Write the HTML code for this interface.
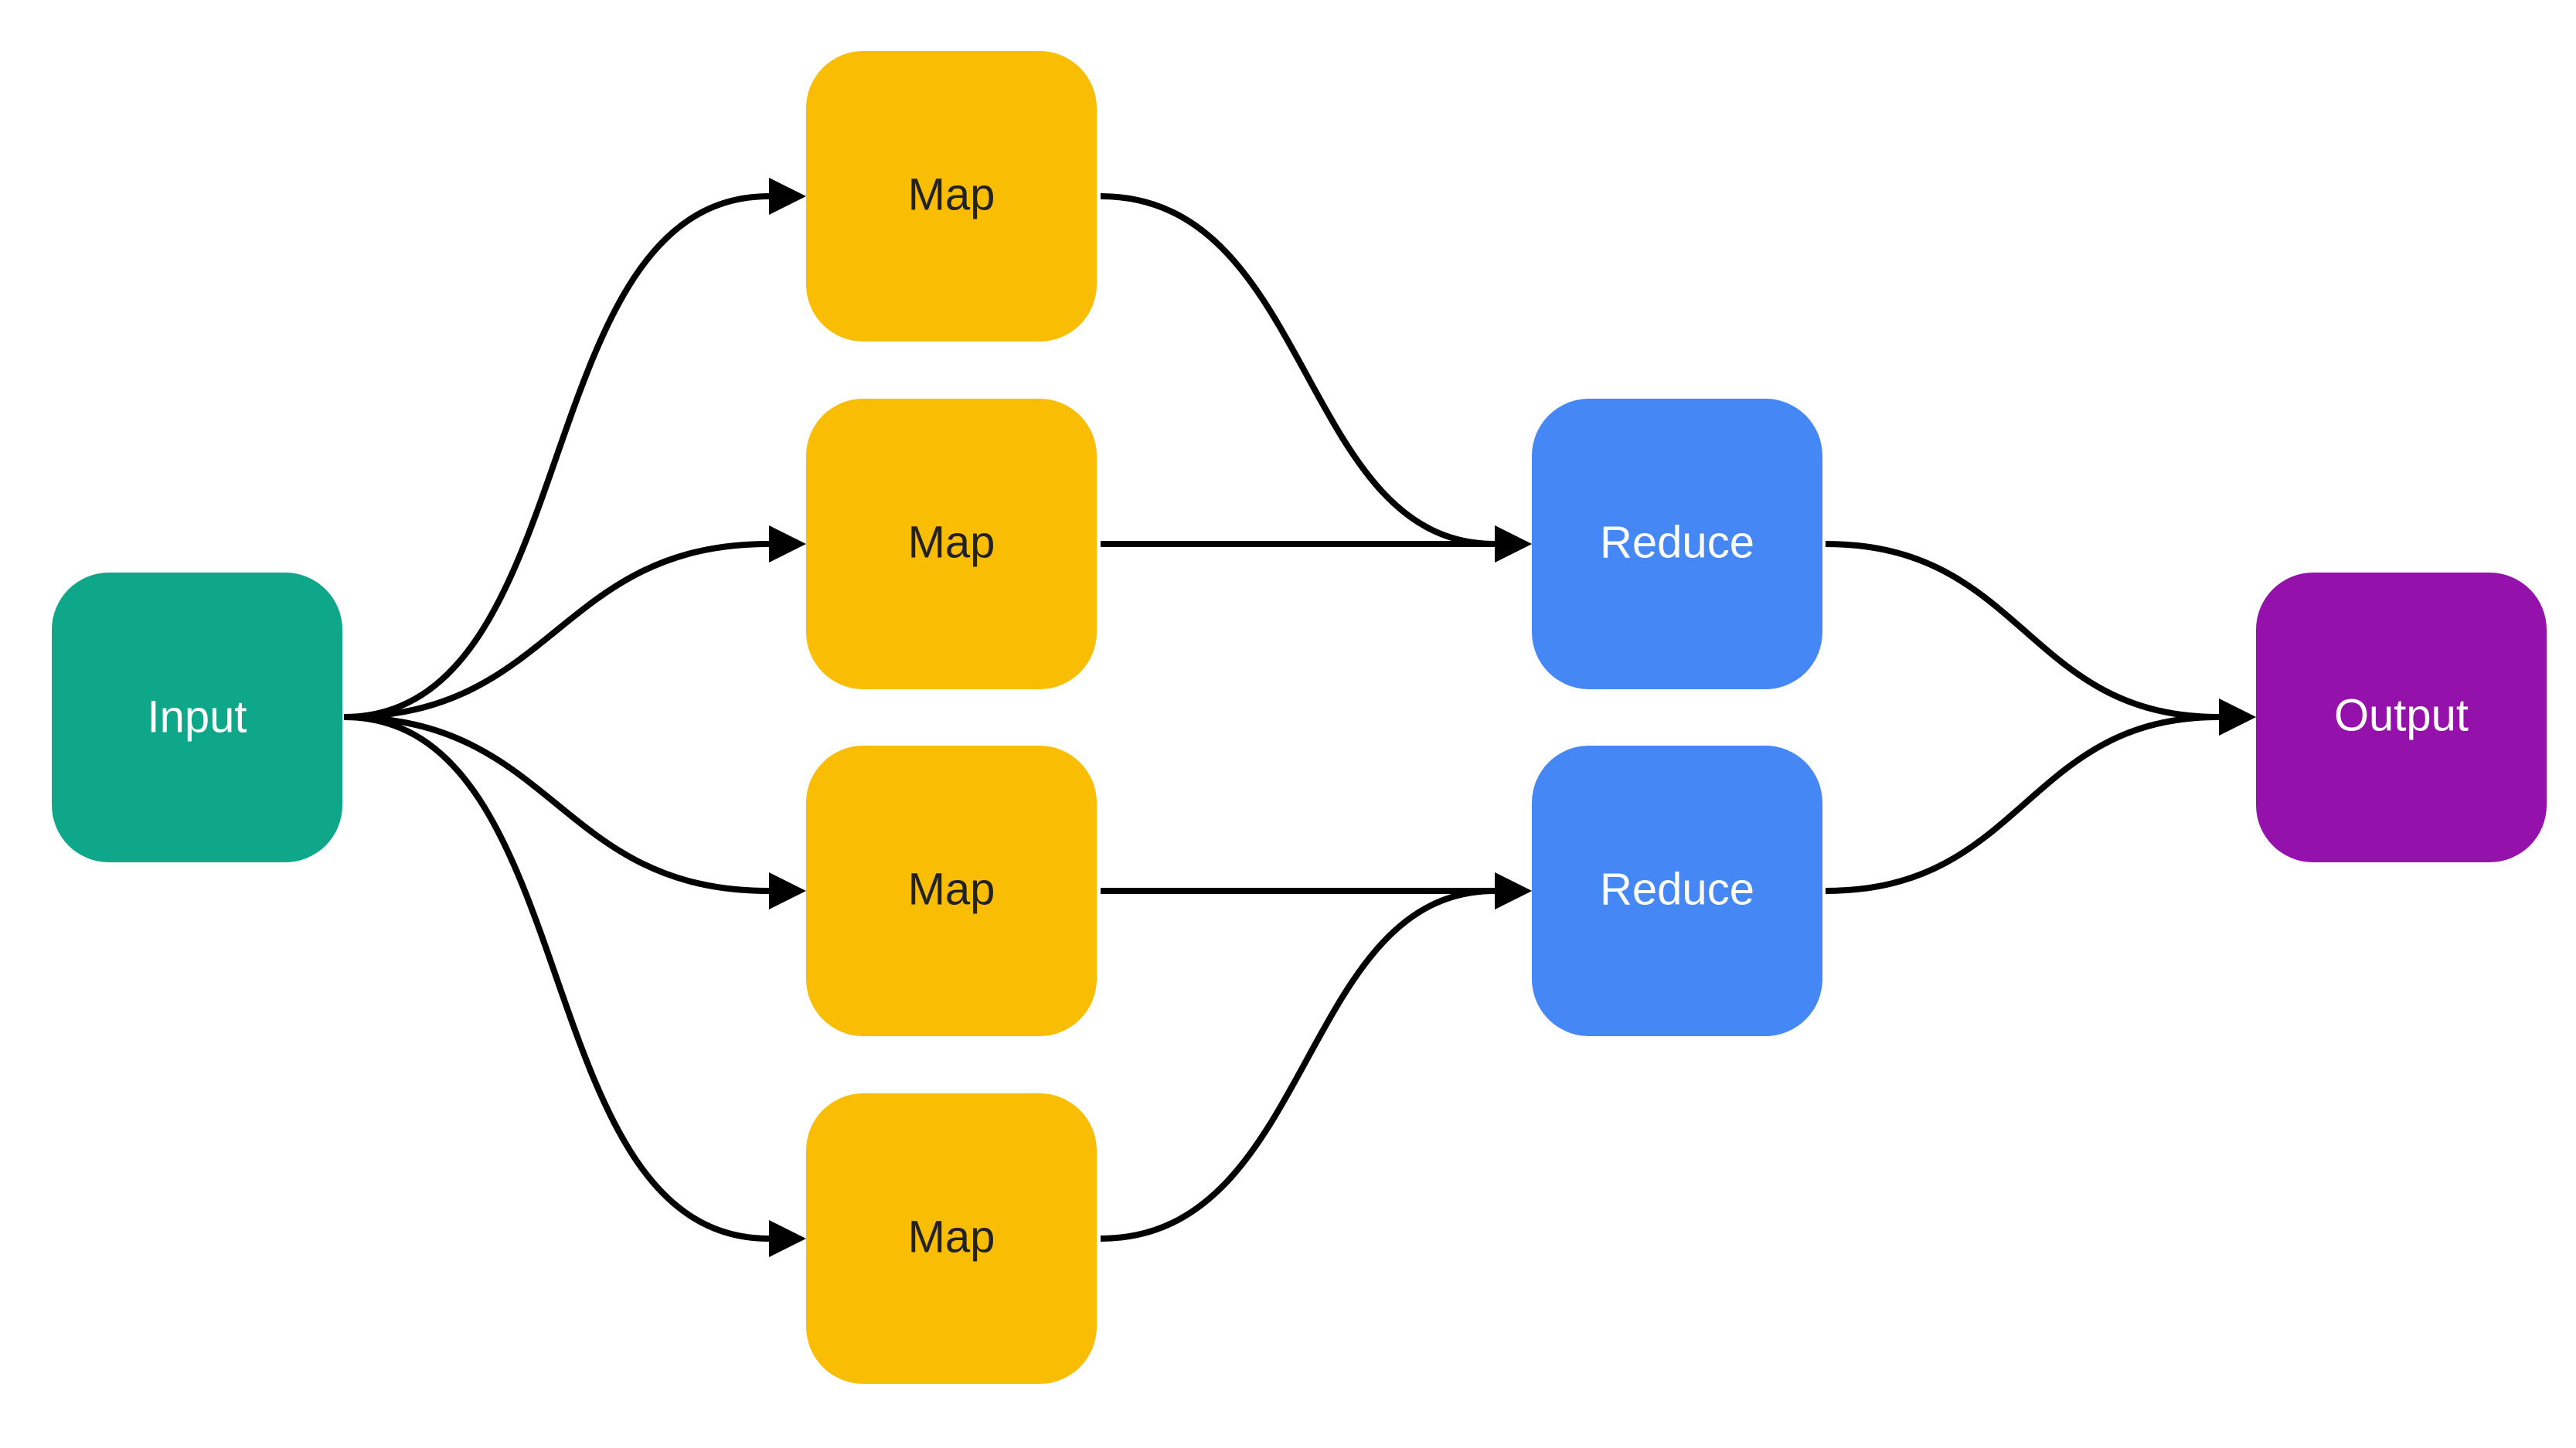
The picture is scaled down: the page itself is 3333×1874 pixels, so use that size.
<!DOCTYPE html>
<html><head><meta charset="utf-8"><style>
html,body{margin:0;padding:0;background:#fff;width:3333px;height:1874px;overflow:hidden}
svg{display:block}
text{font-family:"Liberation Sans",sans-serif;font-size:58px;text-anchor:middle;dominant-baseline:central}
</style></head><body>
<svg width="3333" height="1874" viewBox="0 0 3333 1874" xmlns="http://www.w3.org/2000/svg">
<defs>
<marker id="a" markerWidth="48" markerHeight="48" refX="0" refY="24" orient="auto" markerUnits="userSpaceOnUse">
<path d="M0,0 L48,24 L0,48 Z" fill="#000"/>
</marker>
</defs>
<g fill="none" stroke="#000" stroke-width="8">
<path d="M445,928 C760,928 680,254 995,254" marker-end="url(#a)"/>
<path d="M445,928 C720,928 720,704 995,704" marker-end="url(#a)"/>
<path d="M445,928 C720,928 720,1153 995,1153" marker-end="url(#a)"/>
<path d="M445,928 C760,928 680,1603 995,1603" marker-end="url(#a)"/>
<path d="M1424,254 C1700,254 1680,704 1934,704" marker-end="url(#a)"/>
<path d="M1424,704 L1934,704" marker-end="url(#a)"/>
<path d="M1424,1153 L1934,1153" marker-end="url(#a)"/>
<path d="M1424,1603 C1700,1603 1680,1153 1934,1153" marker-end="url(#a)"/>
<path d="M2362,704 C2620,704 2620,928 2871,928" marker-end="url(#a)"/>
<path d="M2362,1153 C2620,1153 2620,928 2871,928" marker-end="url(#a)"/>
</g>
<rect x="67" y="741" width="376" height="375" rx="74" fill="#0ea789"/>
<rect x="1043" y="66" width="376" height="376" rx="74" fill="#f9bd04"/>
<rect x="1043" y="516" width="376" height="376" rx="74" fill="#f9bd04"/>
<rect x="1043" y="965" width="376" height="376" rx="74" fill="#f9bd04"/>
<rect x="1043" y="1415" width="376" height="376" rx="74" fill="#f9bd04"/>
<rect x="1982" y="516" width="376" height="376" rx="74" fill="#4487f5"/>
<rect x="1982" y="965" width="376" height="376" rx="74" fill="#4487f5"/>
<rect x="2919" y="741" width="376" height="375" rx="74" fill="#9511ab"/>
<text x="255" y="928" fill="#fff">Input</text>
<text x="1231" y="252" fill="#222">Map</text>
<text x="1231" y="702" fill="#222">Map</text>
<text x="1231" y="1151" fill="#222">Map</text>
<text x="1231" y="1601" fill="#222">Map</text>
<text x="2170" y="702" fill="#fff">Reduce</text>
<text x="2170" y="1151" fill="#fff">Reduce</text>
<text x="3107" y="926" fill="#fff">Output</text>
</svg>
</body></html>
